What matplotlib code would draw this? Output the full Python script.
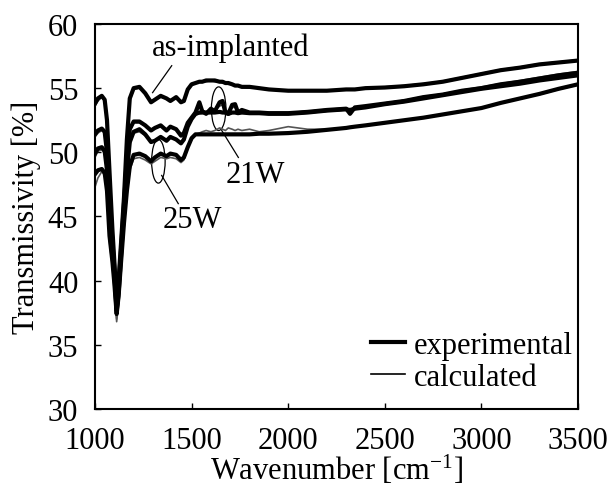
import matplotlib

matplotlib.use("Agg")

import matplotlib.pyplot as plt
from matplotlib.patches import Ellipse
import numpy as np

plt.rcParams["font.family"] = "Liberation Serif"
plt.rcParams["mathtext.fontset"] = "custom"
plt.rcParams["mathtext.rm"] = "Liberation Serif"
plt.rcParams["mathtext.default"] = "regular"

INK = "#000000"
CALC = "#555555"

# shared wavenumber grid [cm-1]
wavenumber = [
    1000, 1015, 1035, 1050, 1062,
    1075, 1090, 1100, 1112, 1122,
    1135, 1150, 1165, 1180, 1200,
    1230, 1260, 1290, 1310, 1340,
    1370, 1390, 1420, 1445, 1460,
    1480, 1500, 1520, 1540, 1555,
    1575, 1600, 1620, 1645, 1660,
    1675, 1690, 1710, 1725, 1740,
    1760, 1800, 1850, 1900, 2000,
    2100, 2200, 2300, 2320, 2345,
    2400, 2500, 2600, 2700, 2800,
    2900, 3000, 3100, 3200, 3300,
    3400, 3500,
]

# experimental transmissivity [%]
exp_as_implanted = [
    53.8, 54.2, 54.4, 54.1, 52.5,
    48.5, 44.0, 41.5, 38.2, 40.0,
    43.0, 46.5, 51.0, 54.2, 55.0,
    55.1, 54.6, 53.9, 54.1, 54.4,
    54.2, 54.0, 54.3, 53.9, 54.0,
    54.9, 55.3, 55.4, 55.5, 55.5,
    55.6, 55.6, 55.6, 55.5, 55.5,
    55.4, 55.4, 55.3, 55.2, 55.2,
    55.1, 55.1, 55.0, 54.9, 54.8,
    54.8, 54.8, 54.9, 54.9, 54.9,
    55.0, 55.05, 55.15, 55.3, 55.5,
    55.8, 56.1, 56.4, 56.6, 56.85,
    57.0, 57.15,
]
exp_21w = [
    51.4, 51.7, 51.85, 51.6, 50.0,
    46.5, 43.0, 41.0, 37.8, 39.5,
    42.5, 46.0, 49.5, 51.8, 52.4,
    52.4, 52.1, 51.7, 51.9, 52.1,
    51.7, 52.0, 51.8, 51.3, 51.5,
    52.3, 52.7, 53.1, 53.9, 53.2,
    53.0, 53.4, 53.2, 53.9, 54.0,
    53.1, 53.0, 53.7, 53.75, 53.1,
    53.3, 53.1, 53.1, 53.05, 53.05,
    53.15, 53.3, 53.4, 53.0, 53.5,
    53.6, 53.8, 54.0, 54.3, 54.5,
    54.8, 55.0, 55.3, 55.5, 55.75,
    56.0, 56.2,
]
exp_third = [
    49.9, 50.3, 50.4, 50.1, 48.6,
    45.5, 42.5, 40.5, 37.6, 39.0,
    42.0, 45.5, 48.5, 50.8, 51.6,
    51.8, 51.4, 50.8, 50.9, 51.2,
    50.9, 51.2, 51.0, 50.7, 51.0,
    52.0, 52.6, 53.0, 53.1, 53.1,
    53.1, 53.1, 53.1, 53.15, 53.1,
    53.1, 53.0, 53.1, 53.1, 53.05,
    53.1, 53.05, 53.05, 53.0, 53.0,
    53.1, 53.25, 53.35, 53.3, 53.4,
    53.5, 53.75, 53.95, 54.2, 54.45,
    54.7, 54.95, 55.15, 55.35, 55.6,
    55.8, 56.0,
]
exp_25w = [
    48.3, 48.6, 48.7, 48.4, 47.0,
    43.5, 41.5, 39.8, 37.4, 38.8,
    41.5, 44.5, 47.0, 48.9, 49.8,
    49.9, 49.7, 49.3, 49.6, 49.9,
    49.7, 49.9, 49.8, 49.4, 49.6,
    50.4, 51.1, 51.4, 51.4, 51.4,
    51.4, 51.4, 51.4, 51.4, 51.4,
    51.4, 51.4, 51.4, 51.4, 51.4,
    51.4, 51.4, 51.45, 51.45, 51.5,
    51.6, 51.75, 51.9, 51.95, 52.0,
    52.1, 52.3, 52.5, 52.7, 52.95,
    53.2, 53.45, 53.85, 54.2, 54.55,
    54.95, 55.3,
]

# calculated transmissivity [%]
calc_as_implanted = [
    53.6, 54.0, 54.3, 54.0, 52.2,
    48.0, 43.5, 41.0, 37.6, 39.5,
    42.5, 46.0, 50.6, 54.0, 54.9,
    55.0, 54.6, 54.0, 54.1, 54.3,
    54.2, 54.1, 54.2, 54.0, 54.1,
    54.8, 55.2, 55.4, 55.5, 55.5,
    55.5, 55.6, 55.5, 55.5, 55.4,
    55.4, 55.3, 55.3, 55.2, 55.2,
    55.1, 55.0, 55.0, 54.9, 54.85,
    54.8, 54.85, 54.9, 54.9, 54.95,
    55.0, 55.1, 55.2, 55.35, 55.55,
    55.85, 56.15, 56.45, 56.65, 56.9,
    57.05, 57.2,
]
calc_21w = [
    51.2, 51.5, 51.7, 51.5, 49.7,
    46.0, 42.5, 40.5, 37.3, 39.0,
    42.0, 45.5, 49.2, 51.7, 52.3,
    52.3, 52.1, 51.8, 51.9, 52.0,
    51.8, 51.9, 51.8, 51.4, 51.6,
    52.2, 52.6, 53.0, 53.5, 53.3,
    53.1, 53.3, 53.3, 53.6, 53.7,
    53.3, 53.2, 53.5, 53.5, 53.2,
    53.2, 53.15, 53.1, 53.1, 53.1,
    53.2, 53.3, 53.4, 53.35, 53.45,
    53.6, 53.85, 54.05, 54.35, 54.55,
    54.85, 55.1, 55.35, 55.6, 55.85,
    56.1, 56.3,
]
calc_third = [
    49.6, 50.1, 50.2, 49.9, 48.3,
    45.0, 42.0, 40.0, 37.0, 38.5,
    41.5, 45.0, 48.2, 50.6, 51.5,
    51.6, 51.3, 50.9, 50.9, 51.1,
    51.0, 51.1, 51.0, 50.8, 51.0,
    51.9, 52.5, 52.9, 53.0, 53.05,
    53.1, 53.1, 53.1, 53.1, 53.1,
    53.05, 53.05, 53.1, 53.1, 53.05,
    53.05, 53.05, 53.0, 53.0, 53.0,
    53.1, 53.2, 53.3, 53.3, 53.35,
    53.5, 53.8, 54.05, 54.3, 54.55,
    54.8, 55.05, 55.3, 55.55, 55.8,
    56.0, 56.2,
]
calc_25w = [
    47.3, 48.0, 48.5, 48.2, 46.7,
    43.0, 41.0, 39.3, 36.8, 38.3,
    41.0, 44.0, 46.6, 48.6, 49.5,
    49.6, 49.4, 49.1, 49.3, 49.6,
    49.5, 49.6, 49.5, 49.2, 49.4,
    50.3, 51.0, 51.4, 51.5, 51.6,
    51.7, 51.6, 51.7, 51.9, 51.8,
    51.7, 51.9, 51.8, 51.7, 51.8,
    51.7, 51.8, 51.6, 51.7, 52.0,
    51.8, 51.8, 51.9, 51.95, 52.0,
    52.1, 52.3, 52.5, 52.7, 52.95,
    53.2, 53.45, 53.85, 54.2, 54.5,
    54.9, 55.25,
]

x_ticks = [1000, 1500, 2000, 2500, 3000, 3500]
y_ticks = [30, 35, 40, 45, 50, 55, 60]

fig = plt.figure(figsize=(6.11, 4.89), dpi=100)
ax = fig.add_axes([0.1555, 0.1616, 0.7905, 0.7873])

wn = np.array(wavenumber)
for calc in [calc_as_implanted, calc_21w, calc_third, calc_25w]:
    ax.plot(wn, calc, color=CALC, linewidth=1.2, zorder=2)
for exp in [exp_as_implanted, exp_21w, exp_third, exp_25w]:
    ax.plot(wn, exp, color=INK, linewidth=3.0, solid_joinstyle="round", zorder=3)

ax.set_xlim(1000, 3500)
ax.set_ylim(30, 60)
ax.set_xticks(x_ticks)
ax.set_yticks(y_ticks)
ax.tick_params(direction="in", length=4, width=1.0, labelsize=22, top=False, right=False)
ax.tick_params(axis="x", pad=12)
ax.tick_params(axis="y", pad=12)
for spine in ax.spines.values():
    spine.set_linewidth(1.5)

ax.set_xlabel("Wavenumber [cm$^{\\mathregular{-1}}$]", fontsize=22, labelpad=-1)
ax.set_ylabel("Transmissivity [%]", fontsize=22, labelpad=5)

# annotations
ax.text(1704, 58.2, "as-implanted", fontsize=22, ha="center", va="center")
ax.plot([1397, 1298], [56.75, 54.65], color=INK, linewidth=0.9)

ax.text(1831, 48.3, "21W", fontsize=22, ha="center", va="center")
ax.plot([1742, 1656], [49.6, 51.7], color=INK, linewidth=0.9)
ax.add_patch(Ellipse((1640, 53.4), 75, 3.4, fill=False, color=INK, linewidth=0.9))

ax.text(1505, 44.8, "25W", fontsize=22, ha="center", va="center")
ax.plot([1431, 1345], [46.0, 48.2], color=INK, linewidth=0.9)
ax.add_patch(Ellipse((1328, 49.3), 70, 3.4, fill=False, color=INK, linewidth=0.9))

handles = [
    plt.Line2D([], [], color=INK, linewidth=3.0),
    plt.Line2D([], [], color=INK, linewidth=1.2),
]
ax.legend(handles, ["experimental", "calculated"], loc="lower right",
          bbox_to_anchor=(0.99, 0.045), frameon=False, fontsize=22,
          handlelength=1.1, handletextpad=0.3, labelspacing=0.1, borderpad=0,
          borderaxespad=0)

fig.savefig("out.png", dpi=100)
